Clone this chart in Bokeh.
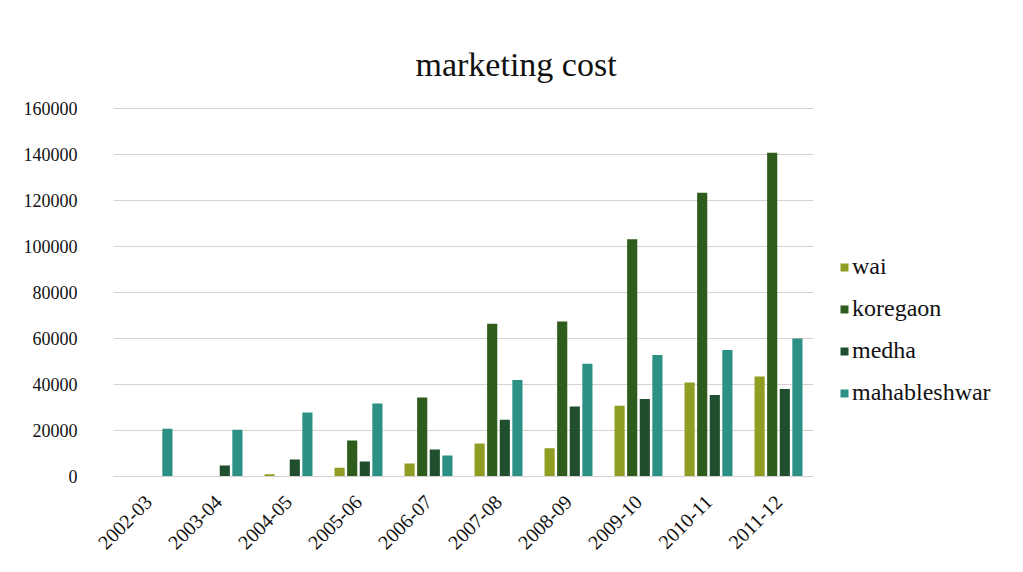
import math
from bokeh.plotting import figure
from bokeh.models import ColumnDataSource, FactorRange, Legend, LegendItem, SingleIntervalTicker, NumeralTickFormatter
from bokeh.transform import dodge
from bokeh.embed import file_html
from bokeh.resources import INLINE

years = ["2002-03", "2003-04", "2004-05", "2005-06", "2006-07",
         "2007-08", "2008-09", "2009-10", "2010-11", "2011-12"]
wai = [0, 0, 1000, 3800, 5600, 14300, 12300, 30700, 40900, 43500]
koregaon = [0, 0, 0, 15600, 34300, 66400, 67400, 103100, 123300, 140700]
medha = [0, 4800, 7400, 6500, 11700, 24700, 30400, 33700, 35400, 38000]
mahableshwar = [20800, 20300, 27800, 31700, 9100, 42000, 49000, 52800, 55000, 60000]

series_names = ["wai", "koregaon", "medha", "mahableshwar"]
colors = ["#8f9e22", "#2e5c1c", "#1f4f2e", "#2b9184"]
offsets = [-0.27, -0.09, 0.09, 0.27]

FONT = "Liberation Serif"

source = ColumnDataSource(dict(years=years, wai=wai, koregaon=koregaon,
                               medha=medha, mahableshwar=mahableshwar))

p = figure(frame_width=700, frame_height=369, x_range=FactorRange(*years), y_range=(0, 160400),
           output_backend="svg", toolbar_location=None,
           min_border_left=113, min_border_right=10, min_border_top=107, min_border_bottom=90,
           title="marketing cost")
p.background_fill_color = "white"
p.border_fill_color = "white"
p.outline_line_color = None

renderers = []
for name, col, off in zip(series_names, colors, offsets):
    r = p.vbar(x=dodge("years", off, range=p.x_range), top=name, width=0.145,
               source=source, fill_color=col, line_color=None)
    renderers.append(r)

p.title.text_font = FONT
p.title.text_font_size = "34px"
p.title.text_font_style = "normal"
p.title.align = "left"
p.title.offset = 302
p.title.standoff = 49
p.title.text_color = "#111111"

p.yaxis.ticker = SingleIntervalTicker(interval=20000)
p.yaxis.formatter = NumeralTickFormatter(format="0")
p.yaxis.axis_line_color = None
p.yaxis.major_tick_line_color = None
p.yaxis.minor_tick_line_color = None
p.yaxis.major_label_standoff = 30
p.yaxis.major_label_text_font = FONT
p.yaxis.major_label_text_font_size = "18px"
p.yaxis.major_label_text_color = "#111111"

p.xaxis.axis_line_color = "#d9cfcf"
p.xaxis.major_tick_line_color = None
p.xaxis.minor_tick_line_color = None
p.xaxis.major_label_orientation = math.pi / 4
p.xaxis.major_label_standoff = 16
p.xaxis.major_label_text_font = FONT
p.xaxis.major_label_text_font_size = "20px"
p.xaxis.major_label_text_color = "#111111"

p.xgrid.grid_line_color = None
p.ygrid.grid_line_color = "#dccfcf"
p.ygrid.grid_line_width = 1

legend = Legend(items=[LegendItem(label=n, renderers=[r]) for n, r in zip(series_names, renderers)],
                location=(26, 70), border_line_color=None, background_fill_alpha=0,
                label_text_font=FONT, label_text_font_size="24px", label_text_color="#111111",
                glyph_width=10, glyph_height=10, label_height=26, spacing=15,
                padding=0, margin=0, label_standoff=3)
p.add_layout(legend, "right")

open("out.html", "w").write(file_html(p, INLINE))
